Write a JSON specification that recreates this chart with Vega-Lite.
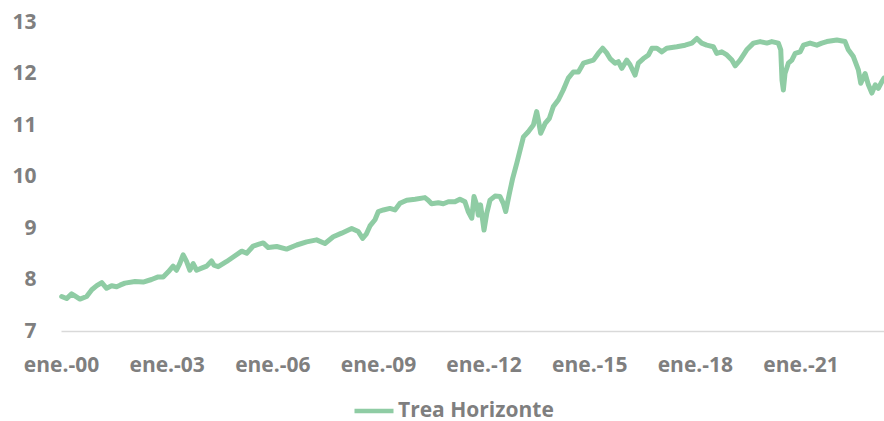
{
  "$schema": "https://vega.github.io/schema/vega-lite/v6.json",
  "width": 823,
  "height": 309,
  "autosize": "none",
  "padding": {"left": 61, "top": 22, "right": 0, "bottom": 90},
  "background": "white",
  "config": {"view": {"stroke": null}, "font": "Open Sans"},
  "data": {"values": [
    {"fecha": "2000-01-08", "v": 7.67, "serie": "Trea Horizonte"},
    {"fecha": "2000-02-28", "v": 7.63, "serie": "Trea Horizonte"},
    {"fecha": "2000-04-20", "v": 7.72, "serie": "Trea Horizonte"},
    {"fecha": "2000-05-24", "v": 7.68, "serie": "Trea Horizonte"},
    {"fecha": "2000-07-15", "v": 7.62, "serie": "Trea Horizonte"},
    {"fecha": "2000-09-23", "v": 7.67, "serie": "Trea Horizonte"},
    {"fecha": "2000-11-15", "v": 7.80, "serie": "Trea Horizonte"},
    {"fecha": "2001-01-06", "v": 7.88, "serie": "Trea Horizonte"},
    {"fecha": "2001-02-27", "v": 7.94, "serie": "Trea Horizonte"},
    {"fecha": "2001-04-18", "v": 7.83, "serie": "Trea Horizonte"},
    {"fecha": "2001-06-09", "v": 7.88, "serie": "Trea Horizonte"},
    {"fecha": "2001-07-31", "v": 7.86, "serie": "Trea Horizonte"},
    {"fecha": "2001-09-04", "v": 7.89, "serie": "Trea Horizonte"},
    {"fecha": "2001-10-25", "v": 7.93, "serie": "Trea Horizonte"},
    {"fecha": "2002-02-07", "v": 7.96, "serie": "Trea Horizonte"},
    {"fecha": "2002-05-02", "v": 7.95, "serie": "Trea Horizonte"},
    {"fecha": "2002-07-28", "v": 8.00, "serie": "Trea Horizonte"},
    {"fecha": "2002-10-05", "v": 8.05, "serie": "Trea Horizonte"},
    {"fecha": "2002-11-26", "v": 8.05, "serie": "Trea Horizonte"},
    {"fecha": "2003-01-18", "v": 8.15, "serie": "Trea Horizonte"},
    {"fecha": "2003-03-09", "v": 8.26, "serie": "Trea Horizonte"},
    {"fecha": "2003-04-13", "v": 8.18, "serie": "Trea Horizonte"},
    {"fecha": "2003-05-17", "v": 8.31, "serie": "Trea Horizonte"},
    {"fecha": "2003-06-21", "v": 8.48, "serie": "Trea Horizonte"},
    {"fecha": "2003-07-26", "v": 8.35, "serie": "Trea Horizonte"},
    {"fecha": "2003-08-30", "v": 8.18, "serie": "Trea Horizonte"},
    {"fecha": "2003-10-03", "v": 8.31, "serie": "Trea Horizonte"},
    {"fecha": "2003-11-08", "v": 8.18, "serie": "Trea Horizonte"},
    {"fecha": "2003-12-29", "v": 8.22, "serie": "Trea Horizonte"},
    {"fecha": "2004-02-20", "v": 8.26, "serie": "Trea Horizonte"},
    {"fecha": "2004-04-11", "v": 8.36, "serie": "Trea Horizonte"},
    {"fecha": "2004-05-05", "v": 8.28, "serie": "Trea Horizonte"},
    {"fecha": "2004-06-19", "v": 8.25, "serie": "Trea Horizonte"},
    {"fecha": "2004-09-15", "v": 8.35, "serie": "Trea Horizonte"},
    {"fecha": "2004-12-10", "v": 8.46, "serie": "Trea Horizonte"},
    {"fecha": "2005-02-18", "v": 8.55, "serie": "Trea Horizonte"},
    {"fecha": "2005-04-10", "v": 8.51, "serie": "Trea Horizonte"},
    {"fecha": "2005-06-17", "v": 8.65, "serie": "Trea Horizonte"},
    {"fecha": "2005-08-08", "v": 8.68, "serie": "Trea Horizonte"},
    {"fecha": "2005-09-29", "v": 8.71, "serie": "Trea Horizonte"},
    {"fecha": "2005-11-20", "v": 8.62, "serie": "Trea Horizonte"},
    {"fecha": "2006-02-16", "v": 8.64, "serie": "Trea Horizonte"},
    {"fecha": "2006-05-29", "v": 8.59, "serie": "Trea Horizonte"},
    {"fecha": "2006-09-11", "v": 8.67, "serie": "Trea Horizonte"},
    {"fecha": "2006-12-23", "v": 8.73, "serie": "Trea Horizonte"},
    {"fecha": "2007-04-05", "v": 8.77, "serie": "Trea Horizonte"},
    {"fecha": "2007-07-01", "v": 8.70, "serie": "Trea Horizonte"},
    {"fecha": "2007-09-25", "v": 8.83, "serie": "Trea Horizonte"},
    {"fecha": "2007-12-21", "v": 8.90, "serie": "Trea Horizonte"},
    {"fecha": "2008-04-03", "v": 8.99, "serie": "Trea Horizonte"},
    {"fecha": "2008-06-11", "v": 8.93, "serie": "Trea Horizonte"},
    {"fecha": "2008-07-26", "v": 8.80, "serie": "Trea Horizonte"},
    {"fecha": "2008-09-01", "v": 8.88, "serie": "Trea Horizonte"},
    {"fecha": "2008-10-10", "v": 9.04, "serie": "Trea Horizonte"},
    {"fecha": "2008-12-01", "v": 9.16, "serie": "Trea Horizonte"},
    {"fecha": "2009-01-05", "v": 9.32, "serie": "Trea Horizonte"},
    {"fecha": "2009-02-26", "v": 9.35, "serie": "Trea Horizonte"},
    {"fecha": "2009-05-05", "v": 9.38, "serie": "Trea Horizonte"},
    {"fecha": "2009-06-26", "v": 9.35, "serie": "Trea Horizonte"},
    {"fecha": "2009-08-17", "v": 9.48, "serie": "Trea Horizonte"},
    {"fecha": "2009-10-26", "v": 9.54, "serie": "Trea Horizonte"},
    {"fecha": "2010-01-21", "v": 9.56, "serie": "Trea Horizonte"},
    {"fecha": "2010-05-03", "v": 9.59, "serie": "Trea Horizonte"},
    {"fecha": "2010-06-06", "v": 9.54, "serie": "Trea Horizonte"},
    {"fecha": "2010-07-11", "v": 9.47, "serie": "Trea Horizonte"},
    {"fecha": "2010-09-19", "v": 9.49, "serie": "Trea Horizonte"},
    {"fecha": "2010-11-10", "v": 9.47, "serie": "Trea Horizonte"},
    {"fecha": "2011-01-01", "v": 9.51, "serie": "Trea Horizonte"},
    {"fecha": "2011-03-10", "v": 9.51, "serie": "Trea Horizonte"},
    {"fecha": "2011-05-01", "v": 9.56, "serie": "Trea Horizonte"},
    {"fecha": "2011-06-22", "v": 9.51, "serie": "Trea Horizonte"},
    {"fecha": "2011-07-26", "v": 9.32, "serie": "Trea Horizonte"},
    {"fecha": "2011-09-01", "v": 9.19, "serie": "Trea Horizonte"},
    {"fecha": "2011-09-24", "v": 9.61, "serie": "Trea Horizonte"},
    {"fecha": "2011-10-22", "v": 9.45, "serie": "Trea Horizonte"},
    {"fecha": "2011-11-08", "v": 9.25, "serie": "Trea Horizonte"},
    {"fecha": "2011-12-01", "v": 9.45, "serie": "Trea Horizonte"},
    {"fecha": "2012-01-06", "v": 8.96, "serie": "Trea Horizonte"},
    {"fecha": "2012-02-04", "v": 9.29, "serie": "Trea Horizonte"},
    {"fecha": "2012-03-08", "v": 9.54, "serie": "Trea Horizonte"},
    {"fecha": "2012-04-29", "v": 9.62, "serie": "Trea Horizonte"},
    {"fecha": "2012-06-20", "v": 9.61, "serie": "Trea Horizonte"},
    {"fecha": "2012-07-24", "v": 9.48, "serie": "Trea Horizonte"},
    {"fecha": "2012-08-18", "v": 9.32, "serie": "Trea Horizonte"},
    {"fecha": "2012-09-25", "v": 9.67, "serie": "Trea Horizonte"},
    {"fecha": "2012-10-30", "v": 9.97, "serie": "Trea Horizonte"},
    {"fecha": "2012-12-11", "v": 10.26, "serie": "Trea Horizonte"},
    {"fecha": "2013-01-14", "v": 10.51, "serie": "Trea Horizonte"},
    {"fecha": "2013-02-18", "v": 10.77, "serie": "Trea Horizonte"},
    {"fecha": "2013-04-09", "v": 10.87, "serie": "Trea Horizonte"},
    {"fecha": "2013-06-01", "v": 11.00, "serie": "Trea Horizonte"},
    {"fecha": "2013-07-05", "v": 11.26, "serie": "Trea Horizonte"},
    {"fecha": "2013-07-22", "v": 11.10, "serie": "Trea Horizonte"},
    {"fecha": "2013-08-16", "v": 10.84, "serie": "Trea Horizonte"},
    {"fecha": "2013-10-01", "v": 11.03, "serie": "Trea Horizonte"},
    {"fecha": "2013-11-14", "v": 11.13, "serie": "Trea Horizonte"},
    {"fecha": "2013-12-25", "v": 11.36, "serie": "Trea Horizonte"},
    {"fecha": "2014-02-16", "v": 11.49, "serie": "Trea Horizonte"},
    {"fecha": "2014-04-07", "v": 11.68, "serie": "Trea Horizonte"},
    {"fecha": "2014-05-29", "v": 11.91, "serie": "Trea Horizonte"},
    {"fecha": "2014-07-20", "v": 12.03, "serie": "Trea Horizonte"},
    {"fecha": "2014-09-11", "v": 12.03, "serie": "Trea Horizonte"},
    {"fecha": "2014-11-02", "v": 12.20, "serie": "Trea Horizonte"},
    {"fecha": "2014-12-23", "v": 12.23, "serie": "Trea Horizonte"},
    {"fecha": "2015-02-14", "v": 12.26, "serie": "Trea Horizonte"},
    {"fecha": "2015-04-05", "v": 12.39, "serie": "Trea Horizonte"},
    {"fecha": "2015-05-20", "v": 12.49, "serie": "Trea Horizonte"},
    {"fecha": "2015-07-01", "v": 12.40, "serie": "Trea Horizonte"},
    {"fecha": "2015-08-05", "v": 12.29, "serie": "Trea Horizonte"},
    {"fecha": "2015-09-26", "v": 12.20, "serie": "Trea Horizonte"},
    {"fecha": "2015-10-30", "v": 12.23, "serie": "Trea Horizonte"},
    {"fecha": "2015-12-05", "v": 12.10, "serie": "Trea Horizonte"},
    {"fecha": "2016-01-26", "v": 12.26, "serie": "Trea Horizonte"},
    {"fecha": "2016-02-29", "v": 12.17, "serie": "Trea Horizonte"},
    {"fecha": "2016-04-21", "v": 11.97, "serie": "Trea Horizonte"},
    {"fecha": "2016-05-25", "v": 12.20, "serie": "Trea Horizonte"},
    {"fecha": "2016-07-16", "v": 12.29, "serie": "Trea Horizonte"},
    {"fecha": "2016-09-07", "v": 12.36, "serie": "Trea Horizonte"},
    {"fecha": "2016-10-12", "v": 12.49, "serie": "Trea Horizonte"},
    {"fecha": "2016-12-03", "v": 12.49, "serie": "Trea Horizonte"},
    {"fecha": "2017-01-24", "v": 12.42, "serie": "Trea Horizonte"},
    {"fecha": "2017-03-15", "v": 12.49, "serie": "Trea Horizonte"},
    {"fecha": "2017-06-28", "v": 12.52, "serie": "Trea Horizonte"},
    {"fecha": "2017-09-22", "v": 12.55, "serie": "Trea Horizonte"},
    {"fecha": "2017-12-01", "v": 12.59, "serie": "Trea Horizonte"},
    {"fecha": "2018-01-22", "v": 12.68, "serie": "Trea Horizonte"},
    {"fecha": "2018-03-13", "v": 12.59, "serie": "Trea Horizonte"},
    {"fecha": "2018-05-04", "v": 12.55, "serie": "Trea Horizonte"},
    {"fecha": "2018-07-12", "v": 12.52, "serie": "Trea Horizonte"},
    {"fecha": "2018-08-16", "v": 12.39, "serie": "Trea Horizonte"},
    {"fecha": "2018-10-07", "v": 12.42, "serie": "Trea Horizonte"},
    {"fecha": "2018-11-29", "v": 12.36, "serie": "Trea Horizonte"},
    {"fecha": "2019-01-20", "v": 12.26, "serie": "Trea Horizonte"},
    {"fecha": "2019-02-23", "v": 12.15, "serie": "Trea Horizonte"},
    {"fecha": "2019-04-15", "v": 12.26, "serie": "Trea Horizonte"},
    {"fecha": "2019-06-23", "v": 12.46, "serie": "Trea Horizonte"},
    {"fecha": "2019-09-01", "v": 12.59, "serie": "Trea Horizonte"},
    {"fecha": "2019-11-09", "v": 12.62, "serie": "Trea Horizonte"},
    {"fecha": "2020-01-18", "v": 12.59, "serie": "Trea Horizonte"},
    {"fecha": "2020-03-09", "v": 12.62, "serie": "Trea Horizonte"},
    {"fecha": "2020-05-16", "v": 12.59, "serie": "Trea Horizonte"},
    {"fecha": "2020-06-10", "v": 12.46, "serie": "Trea Horizonte"},
    {"fecha": "2020-06-23", "v": 11.87, "serie": "Trea Horizonte"},
    {"fecha": "2020-07-07", "v": 11.68, "serie": "Trea Horizonte"},
    {"fecha": "2020-07-24", "v": 12.00, "serie": "Trea Horizonte"},
    {"fecha": "2020-08-28", "v": 12.20, "serie": "Trea Horizonte"},
    {"fecha": "2020-10-03", "v": 12.26, "serie": "Trea Horizonte"},
    {"fecha": "2020-11-07", "v": 12.39, "serie": "Trea Horizonte"},
    {"fecha": "2020-12-28", "v": 12.42, "serie": "Trea Horizonte"},
    {"fecha": "2021-02-01", "v": 12.55, "serie": "Trea Horizonte"},
    {"fecha": "2021-04-10", "v": 12.59, "serie": "Trea Horizonte"},
    {"fecha": "2021-06-19", "v": 12.55, "serie": "Trea Horizonte"},
    {"fecha": "2021-08-10", "v": 12.59, "serie": "Trea Horizonte"},
    {"fecha": "2021-10-01", "v": 12.62, "serie": "Trea Horizonte"},
    {"fecha": "2022-01-13", "v": 12.65, "serie": "Trea Horizonte"},
    {"fecha": "2022-04-08", "v": 12.62, "serie": "Trea Horizonte"},
    {"fecha": "2022-05-12", "v": 12.46, "serie": "Trea Horizonte"},
    {"fecha": "2022-07-03", "v": 12.33, "serie": "Trea Horizonte"},
    {"fecha": "2022-08-24", "v": 12.07, "serie": "Trea Horizonte"},
    {"fecha": "2022-09-18", "v": 11.81, "serie": "Trea Horizonte"},
    {"fecha": "2022-11-02", "v": 12.00, "serie": "Trea Horizonte"},
    {"fecha": "2022-12-06", "v": 11.78, "serie": "Trea Horizonte"},
    {"fecha": "2023-01-11", "v": 11.62, "serie": "Trea Horizonte"},
    {"fecha": "2023-02-15", "v": 11.78, "serie": "Trea Horizonte"},
    {"fecha": "2023-03-19", "v": 11.71, "serie": "Trea Horizonte"},
    {"fecha": "2023-04-24", "v": 11.84, "serie": "Trea Horizonte"},
    {"fecha": "2023-05-17", "v": 11.91, "serie": "Trea Horizonte"}
  ]},
  "mark": {"type": "line", "strokeWidth": 5, "strokeJoin": "round", "strokeCap": "round"},
  "encoding": {
    "x": {
      "field": "fecha", "type": "temporal",
      "scale": {"domain": ["2000-01-01", "2023-05-17"]},
      "axis": {
        "title": null,
        "values": ["2000-01-01", "2003-01-01", "2006-01-01", "2009-01-01", "2012-01-01", "2015-01-01", "2018-01-01", "2021-01-01"],
        "labelExpr": "'ene.-' + timeFormat(datum.value, '%y')",
        "grid": false, "ticks": false, "tickSize": 0,
        "domain": true, "domainColor": "#d9d9d9", "domainWidth": 1.5,
        "labelFont": "Open Sans", "labelFontWeight": "bold", "labelFontSize": 21,
        "labelColor": "#7f7f7f", "labelPadding": 23, "labelBaseline": "top",
        "labelFlush": false, "labelOverlap": false
      }
    },
    "y": {
      "field": "v", "type": "quantitative",
      "scale": {"domain": [7, 13], "nice": false, "zero": false},
      "axis": {
        "title": null, "values": [7, 8, 9, 10, 11, 12, 13],
        "grid": false, "ticks": false, "tickSize": 0, "domain": false,
        "labelFont": "Open Sans", "labelFontWeight": "bold", "labelFontSize": 21,
        "labelColor": "#7f7f7f", "labelPadding": 25, "labelFlush": false
      }
    },
    "color": {
      "field": "serie", "type": "nominal",
      "scale": {"range": ["#8fcca4"]},
      "legend": {
        "title": null, "orient": "none", "legendX": 291, "legendY": 367,
        "symbolType": "stroke", "symbolSize": 1521, "symbolStrokeWidth": 4.5,
        "labelFont": "Open Sans", "labelFontWeight": "bold", "labelFontSize": 21,
        "labelColor": "#7f7f7f", "labelOffset": 2, "padding": 0
      }
    }
  }
}
